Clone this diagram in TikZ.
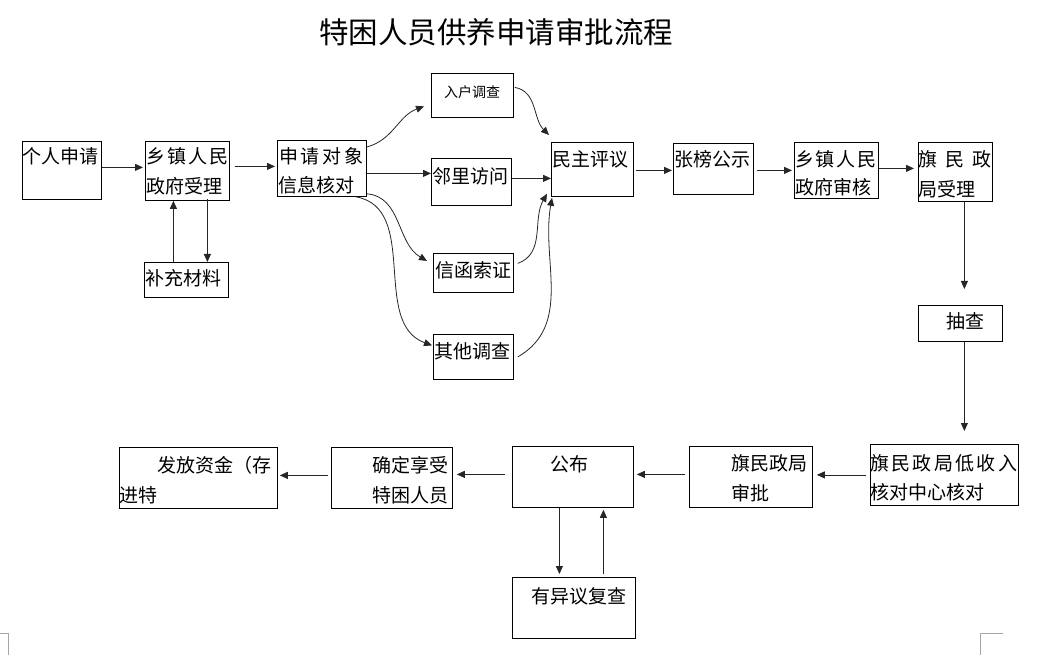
\documentclass[tikz,border=0pt]{standalone}
\usepackage{fontspec}
\setmainfont{Noto Sans CJK SC}
\usetikzlibrary{arrows.meta}
\tikzset{
  box/.style={draw=black, line width=0.8pt, inner sep=0pt, anchor=north west},
  txt/.style={anchor=base west, inner sep=0pt, font=\fontsize{19}{19}\selectfont},
  smalltxt/.style={anchor=base west, inner sep=0pt, font=\fontsize{14}{14}\selectfont},
  arr/.style={-{Triangle[length=8pt,width=7pt]}, line width=0.8pt, draw=black!85},
  cornermark/.style={draw=black!35, line width=1pt},
}
\newcommand\bx[5]{\node[box, minimum width=#4pt-#2pt, minimum height=#5pt-#3pt] (#1) at (#2,#3) {};}
\newcommand\js[2]{\makebox[#1pt][s]{#2}}
\begin{document}
\begin{tikzpicture}[x=1pt,y=-1pt]
\useasboundingbox (0,0) rectangle (1045,655);
% title
\node[font=\fontsize{29.5}{30}\selectfont, anchor=base, inner sep=0pt] (title) at (496,44) {特困人员供养申请审批流程};
% boxes
\bx{A}{22}{141}{101}{199}
\bx{B}{145}{141}{229}{200}
\bx{C}{144}{262}{228}{297}
\bx{D}{277}{140}{366}{196}
\bx{E}{431}{73}{513}{117}
\bx{F}{431}{158}{511}{205}
\bx{G}{433}{253}{513}{292}
\bx{H}{433}{334}{513}{379}
\bx{I}{551}{142}{633}{196}
\bx{J}{673}{143}{753}{194}
\bx{K}{794}{142}{878}{198}
\bx{L}{918}{142}{992}{201}
\bx{M}{918}{305}{1002}{341}
\bx{N}{870}{444}{1018}{505}
\bx{O}{689}{446}{812}{507}
\bx{P}{512}{446}{633}{507}
\bx{Q}{331}{447}{452}{508}
\bx{R}{119}{447}{277}{508}
\bx{S}{512}{577}{635}{638}
% texts
\node[txt] (At) at (22,164) {个人申请};
\node[txt] (Bt1) at (146,164) {\js{82}{乡\hfill 镇\hfill 人\hfill 民}};
\node[txt] (Bt2) at (146,194) {政府受理};
\node[txt] (Ct) at (145,286) {补充材料};
\node[txt] (Dt1) at (279,164) {\js{84}{申\hfill 请\hfill 对\hfill 象}};
\node[txt] (Dt2) at (278,193) {信息核对};
\node[smalltxt] (Et) at (444,98) {入户调查};
\node[txt] (Ft) at (432,184) {邻里访问};
\node[txt] (Gt) at (435,278) {信函索证};
\node[txt] (Ht) at (434,358) {其他调查};
\node[txt] (It) at (552,167) {民主评议};
\node[txt] (Jt) at (674,167) {张榜公示};
\node[txt] (Kt1) at (795,167) {\js{81}{乡\hfill 镇\hfill 人\hfill 民}};
\node[txt] (Kt2) at (795,195) {政府审核};
\node[txt] (Lt1) at (918,167) {\js{73}{旗\hfill 民\hfill 政}};
\node[txt] (Lt2) at (918,197) {局受理};
\node[txt] (Mt) at (946,329) {抽查};
\node[txt] (Nt1) at (870,470) {\js{147}{旗\hfill 民\hfill 政\hfill 局\hfill 低\hfill 收\hfill 入}};
\node[txt] (Nt2) at (870,499) {核对中心核对};
\node[txt] (Ot1) at (731,470) {旗民政局};
\node[txt] (Ot2) at (731,500) {审批};
\node[txt] (Pt) at (550,471) {公布};
\node[txt] (Qt1) at (372,472) {确定享受};
\node[txt] (Qt2) at (372,502) {特困人员};
\node[txt] (Rt1) at (157,472) {发放资金（存};
\node[txt] (Rt2) at (119,502) {进特};
\node[txt] (St) at (531,603) {有异议复查};
% connectors, top row
\draw[arr, shorten >=2pt] ([yshift=3pt]A.east) -- ([yshift=3pt]A.east -| B.west);
\draw[arr, shorten <=5pt, shorten >=2pt] ([yshift=4.5pt]B.east) -- ([yshift=4.5pt]B.east -| D.west);
\draw[arr] ([xshift=-13pt]C.north) -- ([xshift=-13pt]C.north |- B.south);
\draw[arr] ([xshift=20pt,yshift=2pt]B.south) -- ([xshift=20pt]B.south |- C.north);
\draw[arr] ([yshift=-7pt]D.north east) to[out=15,in=200] ([xshift=-7pt,yshift=-11pt]E.west);
\draw[arr] ([yshift=-5pt]D.east) -- ([yshift=-5pt]D.east -| F.west);
\draw[arr] ([yshift=3pt]D.south east) to[out=-5,in=150] ([xshift=-6pt,yshift=12pt]G.west);
\draw[arr] ([xshift=-11pt]D.south east) to[out=-10,in=160] ([xshift=-1pt,yshift=11.5pt]H.west);
\draw[arr] ([xshift=1pt,yshift=8pt]E.east) to[out=-10,in=135] ([xshift=-2pt,yshift=7pt]I.north west);
\draw[arr] ([yshift=3.5pt]F.east) -- ([yshift=3.5pt]F.east -| I.west);
\draw[arr] ([xshift=4pt,yshift=9.5pt]G.east) to[out=20,in=-120] ([xshift=-4pt,yshift=3pt]I.south west);
\draw[arr] ([xshift=4pt]H.east) to[out=30,in=-100] ([xshift=1pt,yshift=-1pt]I.south west);
\draw[arr, shorten <=2pt, shorten >=1pt] ([yshift=-1pt]I.east) -- ([yshift=-1pt]I.east -| J.west);
\draw[arr, shorten <=3pt, shorten >=2pt] ([yshift=-1.5pt]J.east) -- ([yshift=-1.5pt]J.east -| K.west);
\draw[arr, shorten >=4pt] ([yshift=2pt]K.east) -- ([yshift=2pt]K.east -| L.west);
% right column
\draw[arr, shorten >=16pt] ([xshift=9pt]L.south) -- ([xshift=9pt]L.south |- M.north);
\draw[arr, shorten >=13pt] ([xshift=4pt]M.south) -- ([xshift=4pt]M.south |- N.north);
% bottom row
\draw[arr, shorten <=4pt, shorten >=4pt] (N.west) -- (N.west -| O.east);
\draw[arr, shorten <=4pt, shorten >=3pt] ([yshift=2.5pt]O.west) -- ([yshift=2.5pt]O.west -| P.east);
\draw[arr, shorten <=7pt, shorten >=4pt] ([yshift=2.5pt]P.west) -- ([yshift=2.5pt]P.west -| Q.east);
\draw[arr, shorten <=3pt, shorten >=2pt] ([yshift=2.5pt]Q.west) -- ([yshift=2.5pt]Q.west -| R.east);
\draw[arr, shorten >=3pt] ([xshift=-13.5pt]P.south) -- ([xshift=-13.5pt]P.south |- S.north);
\draw[arr, shorten <=3pt, shorten >=2pt] ([xshift=29.5pt]S.north) -- ([xshift=29.5pt]S.north |- P.south);
% page corner marks
\draw[cornermark] (0,633) -- (8,633) -- (8,655);
\draw[cornermark] (1003,633) -- (980,633) -- (980,655);
\end{tikzpicture}
\end{document}
